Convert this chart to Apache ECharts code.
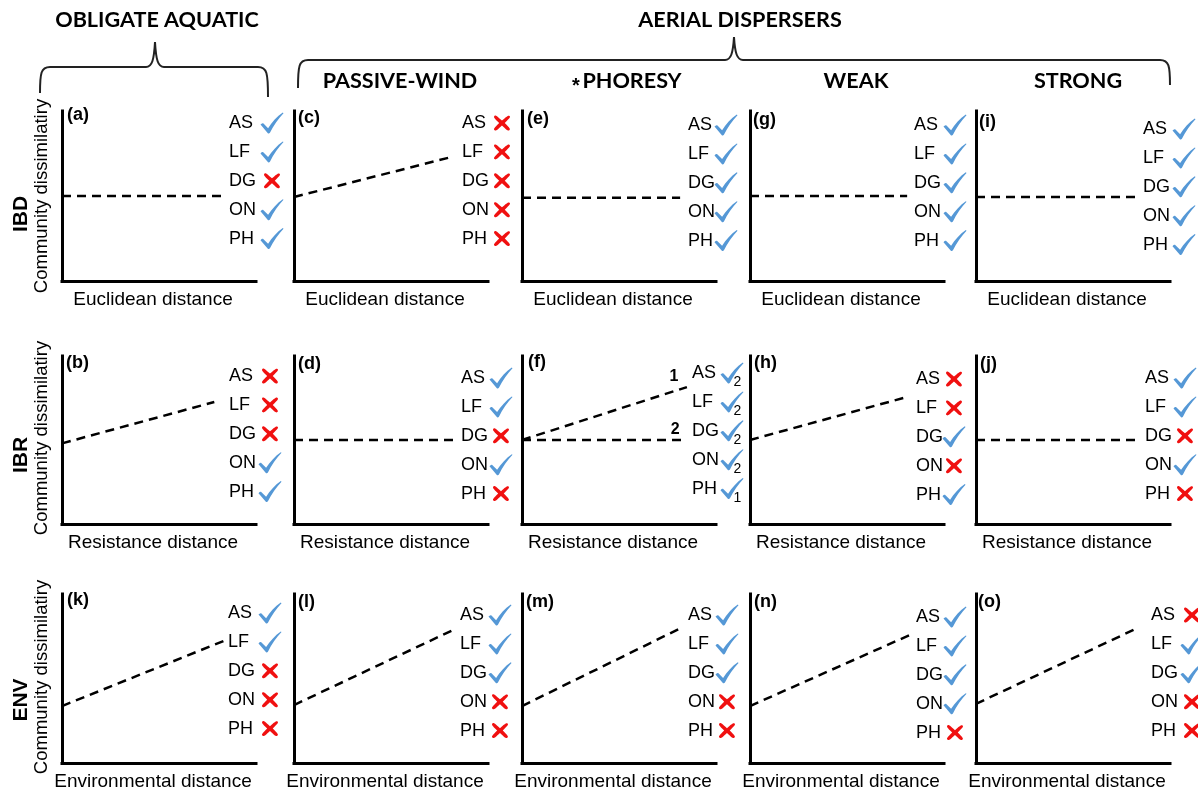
<!DOCTYPE html>
<html>
<head>
<meta charset="utf-8">
<script src="https://cdn.jsdelivr.net/npm/echarts@6/dist/echarts.min.js"></script>
<style>
  html, body { margin: 0; padding: 0; background: #ffffff; }
  #chart { width: 1198px; height: 792px; }
</style>
</head>
<body>
<div id="chart"></div>
<script>
// ---- Data ---------------------------------------------------------------
const sites = ['AS', 'LF', 'DG', 'ON', 'PH'];
const rowNames = ['IBD', 'IBR', 'ENV'];
const distanceNames = ['Euclidean distance', 'Resistance distance', 'Environmental distance'];
const yAxisName = 'Community dissimilatiry';
const groupNames = ['OBLIGATE AQUATIC', 'AERIAL DISPERSERS'];
const aerialGroups = ['PASSIVE-WIND', 'PHORESY', 'WEAK', 'STRONG'];
const panelIds = [
  ['a', 'c', 'e', 'g', 'i'],
  ['b', 'd', 'f', 'h', 'j'],
  ['k', 'l', 'm', 'n', 'o']
];

// 1 = hypothesis supported at the site (tick), 0 = not supported (cross)
// one row of five sites per column: obligate, passive-wind, phoresy, weak, strong
const supportIBD = [[1,1,0,1,1],[0,0,0,0,0],[1,1,1,1,1],[1,1,1,1,1],[1,1,1,1,1]];
const supportIBR = [[0,0,0,1,1],[1,1,0,1,0],[1,1,1,1,1],[0,0,1,0,1],[1,1,0,1,0]];
const supportENV = [[1,1,0,0,0],[1,1,1,0,0],[1,1,1,0,0],[1,1,1,1,0],[0,1,1,0,0]];
// which of the two phoresy resistance lines each site follows
const phoresyLineBySite = ['2', '2', '2', '2', '1'];

// expected relationship: [x0, y0, x1, y1] on a 0-100 scale
const trendIBD = [[0,50,82,50],[0,49.4,81.4,73],[0,49,81.5,49],[0,50,81,50],[0,49.4,83.5,49.4]];
const trendIBR = [[0,48,78.5,72.6],[0,50,83,50],[0,50,85,81.5],[0,50,79,75],[0,50,84.5,50]];
const trendENV = [[0,33.7,84.6,72.8],[0,34.3,82,78.7],[0,33.7,83,80.5],[0,33.7,83.5,76.3],[0,35,83.5,80]];
const phoresyFlatLine = [0, 50, 82, 50];

// ---- Layout -------------------------------------------------------------
const colLeft = [62, 294, 522, 750, 976];
const rowTop = [111, 356, 594];
const rowHeight = [170, 168, 169];
const gridW = 194;
const siteStep = 28.9;
// site list placement inside each panel: [text x, first row y, mark x] in px from grid corner
const siteLayout = [
  [[167,12,210],[168,12,208],[166,14,204],[164,14,205],[167,18,208]],
  [[167,20,208],[167,22,207],[170,17,210],[166,23,204],[169,22,209]],
  [[166,19,208],[166,21,206],[166,21,205],[166,23,205],[175,21,216]]
];
// panel letter placement [x, y] in px from grid corner
const letterLayout = [
  [[5,4],[4,7],[5,8],[3,9],[3,11]],
  [[4,7],[4,8],[6,6],[4,7],[4,8]],
  [[5,6],[4,8],[4,8],[4,8],[2,8]]
];

const TEXT_FONT = 'Liberation Sans, Arial, sans-serif';
const HEAD_FONT = 'Lato, sans-serif';
const INK = '#000';
const CHECK_COLOR = '#5598d6';
const CROSS_COLOR = '#f01010';

const checkPath = 'path://M0,58 C5,51 9,49 13,53 L33,75 C50,47 71,19 97,0 L100,3 C79,28 56,62 41,97 C39,101 33,102 31,98 Z';
const crossPath = 'path://M8,2 C14,-2 20,4 50,34 C78,6 86,-2 93,4 C100,10 96,16 66,50 C96,84 100,90 92,97 C85,103 78,96 50,66 C22,96 15,103 8,97 C0,90 4,84 34,50 C4,16 0,10 8,2 Z';

const support = [supportIBD, supportIBR, supportENV];
const trends = [trendIBD, trendIBR, trendENV];

const grid = [], xAxis = [], yAxis = [], series = [], graphic = [];

for (let r = 0; r < 3; r++) {
  for (let c = 0; c < 5; c++) {
    const idx = r * 5 + c;
    const H = rowHeight[r];
    const toX = px => px / gridW * 100;
    const toY = py => 100 - py / H * 100;

    grid.push({ left: colLeft[c], top: rowTop[r], width: gridW, height: H });
    const axisLine = { show: true, onZero: false, lineStyle: { color: '#000', width: 3, cap: 'square' } };
    xAxis.push({
      gridIndex: idx, type: 'value', min: 0, max: 100,
      axisLine, axisTick: { show: false }, axisLabel: { show: false }, splitLine: { show: false },
      name: distanceNames[r], nameLocation: 'middle', nameGap: 9,
      nameTextStyle: { fontFamily: TEXT_FONT, fontSize: 19, color: INK, verticalAlign: 'top', padding: [0, 12, 0, 0] }
    });
    yAxis.push({
      gridIndex: idx, type: 'value', min: 0, max: 100,
      axisLine, axisTick: { show: false }, axisLabel: { show: false }, splitLine: { show: false }
    });

    // dashed expected trend(s)
    const t = trends[r][c];
    const isPhoresyIBR = (r === 1 && c === 2);
    const lineStyle = { color: '#000', width: 2.5, type: [9, 6] };
    series.push({
      type: 'line', xAxisIndex: idx, yAxisIndex: idx, silent: true,
      data: [[t[0], t[1]], [t[2], t[3]]], symbol: 'none', lineStyle,
      endLabel: isPhoresyIBR ? {
        show: true, formatter: '1', distance: 0, offset: [-13, -10],
        align: 'center', verticalAlign: 'middle',
        fontFamily: TEXT_FONT, fontWeight: 'bold', fontSize: 16, color: INK
      } : { show: false }
    });
    if (isPhoresyIBR) {
      const f = phoresyFlatLine;
      series.push({
        type: 'line', xAxisIndex: idx, yAxisIndex: idx, silent: true,
        data: [[f[0], f[1]], [f[2], f[3]]], symbol: 'none', lineStyle,
        endLabel: {
          show: true, formatter: '2', distance: 0, offset: [-6, -10],
          align: 'center', verticalAlign: 'middle',
          fontFamily: TEXT_FONT, fontWeight: 'bold', fontSize: 16, color: INK
        }
      });
    }

    // site names
    const lay = siteLayout[r][c];
    series.push({
      type: 'scatter', xAxisIndex: idx, yAxisIndex: idx, silent: true, clip: false,
      symbolSize: 0,
      itemStyle: { opacity: 1, color: '#000' },
      data: sites.map((s, i) => [toX(lay[0]), toY(lay[1] + i * siteStep), s]),
      label: {
        show: true, position: 'right', distance: 0, opacity: 1,
        formatter: p => p.value[2],
        fontFamily: TEXT_FONT, fontSize: 18, color: INK
      }
    });

    // ticks and crosses
    const sup = support[r][c];
    const checks = [], crosses = [];
    sites.forEach((s, i) => {
      const pt = [toX(lay[2]), toY(lay[1] + i * siteStep)];
      if (sup[i]) {
        const item = { value: pt };
        if (isPhoresyIBR) {
          item.label = { show: true, formatter: phoresyLineBySite[i] };
        }
        checks.push(item);
      } else {
        crosses.push({ value: pt });
      }
    });
    series.push({
      type: 'scatter', xAxisIndex: idx, yAxisIndex: idx, silent: true, clip: false,
      symbol: checkPath, symbolSize: [23, 21],
      itemStyle: { color: CHECK_COLOR, opacity: 1 },
      label: { show: false, opacity: 1, position: [13, 13], fontFamily: TEXT_FONT, fontSize: 14, color: INK },
      data: checks
    });
    series.push({
      type: 'scatter', xAxisIndex: idx, yAxisIndex: idx, silent: true, clip: false,
      symbol: crossPath, symbolSize: [16, 15],
      itemStyle: { color: CROSS_COLOR, opacity: 1 },
      data: crosses
    });

    // panel letter
    const ll = letterLayout[r][c];
    graphic.push({
      type: 'text', x: colLeft[c] + ll[0], y: rowTop[r] + ll[1],
      style: {
        text: '(' + panelIds[r][c] + ')', fill: INK,
        fontFamily: TEXT_FONT, fontWeight: 'bold', fontSize: 18,
        align: 'left', verticalAlign: 'middle'
      }
    });
  }
}

// row titles and shared y-axis titles
const rowTitleY = [214, 455, 700];
const yNameY = [196, 438, 677];
for (let r = 0; r < 3; r++) {
  graphic.push({
    type: 'text', x: 21, y: rowTitleY[r], rotation: Math.PI / 2,
    style: { text: rowNames[r], fill: INK, fontFamily: TEXT_FONT, fontWeight: 'bold', fontSize: 21, align: 'center', verticalAlign: 'middle' }
  });
  graphic.push({
    type: 'text', x: 42, y: yNameY[r], rotation: Math.PI / 2,
    style: { text: yAxisName, fill: INK, fontFamily: TEXT_FONT, fontSize: 18.5, align: 'center', verticalAlign: 'middle' }
  });
}

// group braces: curled ends, straight arms and a central point
function brace(x0, x1, xm, yBar, yEnd0, yEnd1, yTip) {
  const st = { stroke: '#222', lineWidth: 2, fill: null };
  const parts = [];
  const curve = (a, b, cp1, cp2) => parts.push({
    type: 'bezierCurve', style: st,
    shape: { x1: a[0], y1: a[1], x2: b[0], y2: b[1], cpx1: cp1[0], cpy1: cp1[1], cpx2: cp2[0], cpy2: cp2[1] }
  });
  const seg = (a, b) => parts.push({ type: 'line', style: st, shape: { x1: a[0], y1: a[1], x2: b[0], y2: b[1] } });
  curve([x0, yEnd0], [x0 + 10, yBar], [x0, yBar + 6], [x0 + 1, yBar]);
  seg([x0 + 10, yBar], [xm - 9, yBar]);
  curve([xm - 9, yBar], [xm, yTip], [xm - 3, yBar], [xm - 1, yBar - 7]);
  curve([xm, yTip], [xm + 9, yBar], [xm + 1, yBar - 7], [xm + 3, yBar]);
  seg([xm + 9, yBar], [x1 - 10, yBar]);
  curve([x1 - 10, yBar], [x1, yEnd1], [x1 - 1, yBar], [x1, yBar + 6]);
  return parts;
}
graphic.push(...brace(40, 268, 155, 67, 93, 97, 42));
graphic.push(...brace(298, 1170, 734, 60, 88, 85, 37));

const headStyle = { fill: INK, fontFamily: HEAD_FONT, fontWeight: 'bold', fontSize: 21.6, align: 'center', verticalAlign: 'middle' };
graphic.push({ type: 'text', x: 157, y: 20, style: Object.assign({ text: groupNames[0] }, headStyle) });
graphic.push({ type: 'text', x: 740, y: 20, style: Object.assign({ text: groupNames[1] }, headStyle) });
const subX = [400, 632, 856, 1078];
aerialGroups.forEach((g, i) => {
  graphic.push({ type: 'text', x: subX[i], y: 81, style: Object.assign({ text: g }, headStyle) });
});
graphic.push({
  type: 'text', x: 576, y: 86,
  style: { text: '*', fill: INK, fontFamily: TEXT_FONT, fontWeight: 'bold', fontSize: 20, align: 'center', verticalAlign: 'middle' }
});

const chart = echarts.init(document.getElementById('chart'), null, { renderer: 'canvas' });
chart.setOption({
  backgroundColor: '#ffffff',
  animation: false,
  grid, xAxis, yAxis, series, graphic
});
</script>
</body>
</html>
